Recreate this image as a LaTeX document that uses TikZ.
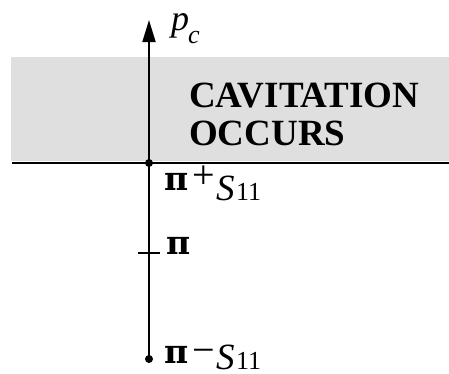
\documentclass[tikz,border=0pt]{standalone}
\usepackage{fontspec}
\setmainfont{Liberation Serif}
\newfontfamily\pifont{DejaVu Serif}
\usetikzlibrary{arrows.meta}
\tikzset{
  axisline/.style={line width=1.8pt},
  dotnode/.style={circle, fill=black, inner sep=0pt, minimum size=8pt},
  lab/.style={anchor=base west, inner sep=0pt},
  pisym/.style={lab, font=\pifont\bfseries\fontsize{33}{38}\selectfont},
  opsym/.style={lab, font=\fontsize{40}{44}\selectfont},
  ssym/.style={lab, font=\fontsize{37}{40}\selectfont\itshape},
  idx/.style={lab, font=\fontsize{26}{30}\selectfont},
  title/.style={lab, font=\fontsize{37}{42}\selectfont\bfseries}
}
\begin{document}
\begin{tikzpicture}[x=1pt,y=-1pt]
\useasboundingbox (0,0) rectangle (449,373);
\fill[gray!25] (11,57) rectangle (449,161);
\coordinate (hl) at (12,163);
\coordinate (hr) at (449,163);
\draw[axisline] (hl) -- (hr);
\node[dotnode] (d1) at (149,163) {};
\node[dotnode] (d2) at (149,359) {};
\coordinate (top) at (149,20);
\draw[axisline, -{Triangle[length=22pt,width=13pt]}] (d2.center) -- (top);
\coordinate (tl) at (138,253);
\coordinate (tr) at (160,253);
\draw[line width=1.4pt] (tl) -- (tr);
\node[title] (cav) at (189,107) {CAVITATION};
\node[title] (occ) at (189,145) {OCCURS};
\node[lab, font=\fontsize{36}{40}\selectfont\itshape] (p) at (171,30) {p};
\node[lab, font=\fontsize{26}{30}\selectfont\itshape] (c) at (188,43) {c};
% pi + S11
\node[pisym] (pi1) at (164,190) {π};
\node[opsym] (plus) at (192,188) {+};
\node[ssym] (s1) at (216,200) {S};
\node[idx] (i1) at (236,200) {11};
% pi
\node[pisym] (pi2) at (166,254) {π};
% pi - S11
\node[pisym] (pi3) at (164,363) {π};
\node[opsym] (minus) at (192,363) {−};
\node[ssym] (s3) at (216,369) {S};
\node[idx] (i3) at (236,369) {11};
\end{tikzpicture}
\end{document}
